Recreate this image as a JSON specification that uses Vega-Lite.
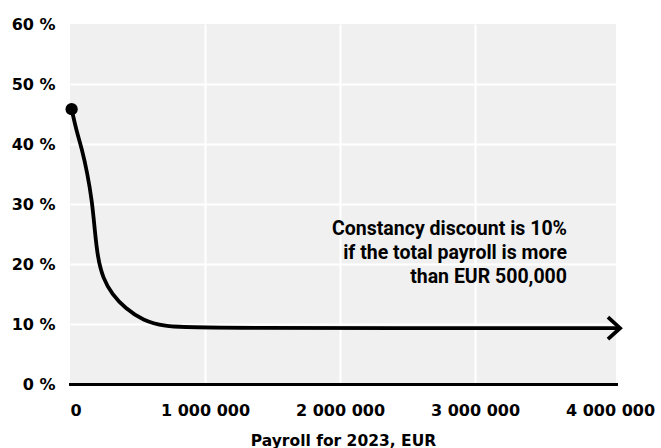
{
  "$schema": "https://vega.github.io/schema/vega-lite/v6.json",
  "autosize": {"type": "none"},
  "padding": {"left": 70, "top": 24, "right": 45, "bottom": 64},
  "width": 546,
  "height": 360,
  "background": "white",
  "config": {"view": {"fill": "#f0f0f0", "stroke": null}},
  "datasets": {
    "curve": [
      {"payroll": 12000, "discount": 45.8},
      {"payroll": 50000, "discount": 42.0},
      {"payroll": 88000, "discount": 39.2},
      {"payroll": 128000, "discount": 35.2},
      {"payroll": 163000, "discount": 30.5},
      {"payroll": 182000, "discount": 26.0},
      {"payroll": 205000, "discount": 21.0},
      {"payroll": 245000, "discount": 17.6},
      {"payroll": 310000, "discount": 15.0},
      {"payroll": 410000, "discount": 12.6},
      {"payroll": 540000, "discount": 10.6},
      {"payroll": 700000, "discount": 9.6},
      {"payroll": 900000, "discount": 9.3},
      {"payroll": 4074000, "discount": 9.3}
    ],
    "start": [{"payroll": 12000, "discount": 45.8}],
    "end": [{"payroll": 4074000, "discount": 9.3}],
    "note": [{"payroll": 3681000, "discount": 24.9, "text": "Constancy discount is 10%\nif the total payroll is more\nthan EUR 500,000"}]
  },
  "encoding": {
    "x": {
      "field": "payroll",
      "type": "quantitative",
      "scale": {"domain": [0, 4044000], "nice": false, "zero": true},
      "title": "Payroll for 2023, EUR",
      "axis": {
        "values": [0, 1000000, 2000000, 3000000, 4000000],
        "labelExpr": "datum.value == 0 ? '0' : format(datum.value / 1000000, 'd') + ' 000 000'",
        "domain": true,
        "domainColor": "black",
        "domainWidth": 3,
        "domainCap": "square",
        "ticks": false,
        "labelPadding": 18,
        "labelFont": "DejaVu Sans",
        "labelFontWeight": "bold",
        "labelFontSize": 16,
        "labelColor": "black",
        "grid": true,
        "gridColor": {"condition": {"test": "datum.value == 0 || datum.value >= 4000000", "value": "transparent"}, "value": "white"},
        "gridWidth": 2,
        "gridOpacity": 1,
        "titleFont": "DejaVu Sans",
        "titleFontWeight": "bold",
        "titleFontSize": 15.5,
        "titleColor": "black",
        "titlePadding": 15
      }
    },
    "y": {
      "field": "discount",
      "type": "quantitative",
      "scale": {"domain": [0, 60], "nice": false},
      "title": null,
      "axis": {
        "values": [0, 10, 20, 30, 40, 50, 60],
        "labelExpr": "datum.value + ' %'",
        "domain": false,
        "ticks": false,
        "labelPadding": 15,
        "labelFont": "DejaVu Sans",
        "labelFontWeight": "bold",
        "labelFontSize": 16,
        "labelColor": "black",
        "grid": true,
        "gridColor": {"condition": {"test": "datum.value == 0 || datum.value == 60", "value": "transparent"}, "value": "white"},
        "gridWidth": 2,
        "gridOpacity": 1
      }
    }
  },
  "layer": [
    {
      "data": {"name": "curve"},
      "mark": {"type": "line", "interpolate": "basis", "color": "black", "strokeWidth": 3.8, "strokeCap": "butt", "clip": false}
    },
    {
      "data": {"name": "start"},
      "mark": {"type": "point", "filled": true, "color": "black", "size": 150, "opacity": 1}
    },
    {
      "data": {"name": "end"},
      "mark": {"type": "point", "shape": "M-1.1,-1L0,0L-1.1,1", "filled": false, "stroke": "black", "strokeWidth": 3.8, "size": 484, "opacity": 1, "strokeJoin": "miter", "strokeCap": "butt"}
    },
    {
      "data": {"name": "note"},
      "mark": {"type": "text", "align": "right", "baseline": "alphabetic", "font": "Roboto", "fontWeight": "bold", "fontSize": 19.5, "lineHeight": 24, "lineBreak": "\n", "color": "black"},
      "encoding": {"text": {"field": "text", "type": "nominal"}}
    }
  ]
}
